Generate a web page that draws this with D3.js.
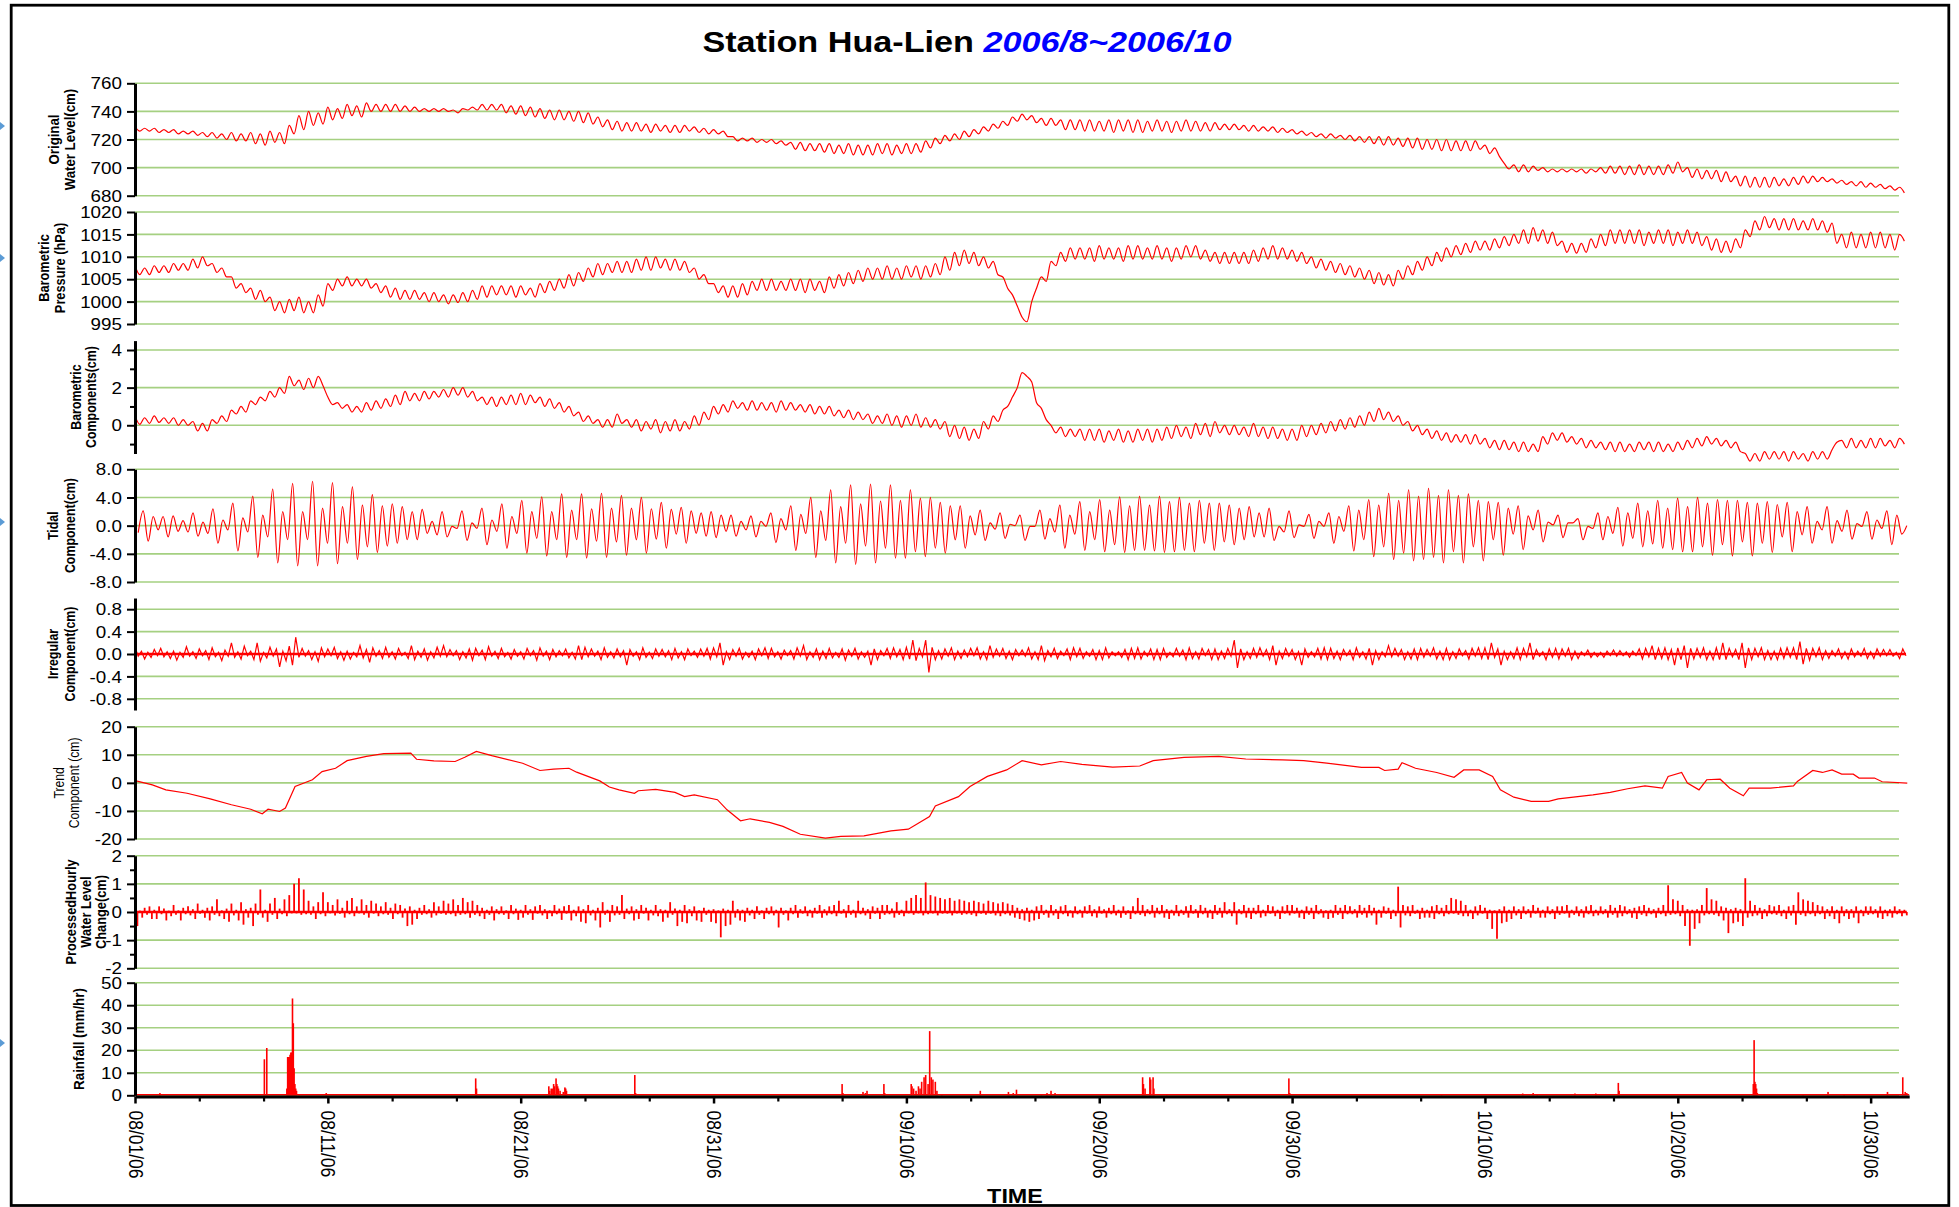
<!DOCTYPE html>
<html>
<head>
<meta charset="utf-8">
<title>Station Hua-Lien 2006/8~2006/10</title>
<script src="https://cdn.jsdelivr.net/npm/d3@7"></script>
<style>
  html, body { margin: 0; padding: 0; background: #fff; }
  svg { display: block; }
</style>
</head>
<body>
<svg id="chart" width="1959" height="1207"></svg>
<script>
// ---------------------------------------------------------------------------
// Data: hourly record of the Hua-Lien well, 2006-08-01 .. 2006-11-01 (UTC grid)
// ---------------------------------------------------------------------------
const START = Date.UTC(2006, 7, 1);
const END = Date.UTC(2006, 10, 1);
const HOUR = 3600e3;

const axisDates = ["2006-08-01", "2006-08-11", "2006-08-21", "2006-08-31", "2006-09-10",
  "2006-09-20", "2006-09-30", "2006-10-10", "2006-10-20", "2006-10-30"];
const axisDateLabels = ["08/01/06", "08/11/06", "08/21/06", "08/31/06", "09/10/06",
  "09/20/06", "09/30/06", "10/10/06", "10/20/06", "10/30/06"];

// Original water level (cm), one sample every 6 h
const waterLevelStepH = 6;
const waterLevelCm = [
729,726,728,726, 728,725,727,725, 727,724,726,724, 726,723,725,722, 725,721,724,720,
725,719,724,719, 725,717,724,716, 726,718,725,717, 730,724,737,727, 740,730,739,731,
743,734,742,735, 745,737,744,736, 746,740,745,740, 745,740,745,740, 744,740,743,740,
742,740,742,740, 742,740,741,739, 742,741,743,741, 745,741,745,741, 745,739,744,738,
744,737,743,736, 742,735,741,734, 741,734,740,733, 740,732,739,731, 736,729,734,727,
733,726,732,726, 732,726,731,725, 731,726,730,725, 730,725,730,726, 729,725,728,724,
727,724,726,722, 722,719,721,719, 721,718,720,718, 720,717,719,716, 718,713,718,712,
717,712,717,711, 717,710,716,710, 717,709,716,709, 716,709,717,710, 717,709,716,710,
717,710,717,711, 719,714,721,717, 723,719,724,720, 726,722,727,724, 729,726,731,728,
733,730,736,733, 738,734,737,732, 735,730,735,730, 734,727,734,727, 734,726,734,726,
733,726,734,725, 734,726,734,725, 734,725,733,726, 734,726,733,725, 733,726,734,726,
733,726,732,726, 732,727,731,727, 731,727,730,726, 730,726,729,726, 729,725,728,725,
727,724,726,723, 725,722,724,721, 724,721,723,720, 723,719,722,718, 722,717,722,716,
722,716,721,715, 721,714,721,713, 720,713,720,712, 720,712,719,712, 719,712,719,713,
716,710,714,708, 703,699,702,697, 702,697,701,698, 700,697,699,697, 699,697,699,697,
699,696,699,697, 700,696,701,696, 701,695,701,695, 702,695,701,695, 701,695,702,696,
704,697,700,693, 699,692,698,692, 698,690,697,690, 694,687,694,686, 693,686,693,686,
693,687,692,687, 693,688,694,689, 694,690,693,690, 692,689,691,688, 690,687,690,686,
689,686,688,685, 687,684,686,682
];

// Barometric pressure (hPa), one sample every 6 h
const pressureStepH = 6;
const pressureHpa = [
1008,1006,1007.5,1006, 1008,1006.5,1008,1006.5, 1008.5,1007,1008.5,1007, 1009.5,1007.5,1010,1008, 1008.5,1006.5,1007.5,1005.5,
1005.5,1003,1004,1002, 1003,1000.5,1002.5,1000, 1001,998,1000,997.5, 1000.5,998,1001,997.5, 1000,997.5,1001.5,999,
1004,1002.5,1005,1003.5, 1005.5,1003.5,1005,1003.5, 1005,1003,1004,1002, 1003.5,1001,1003,1000.5, 1002.5,1000.5,1002.5,1000.5,
1002,1000,1002,1000, 1001.5,999.5,1001.5,999.8, 1002,1000,1002.5,1000.5, 1003.5,1001,1003.5,1001.5, 1003.5,1001.5,1003.5,1001,
1003.5,1001.5,1003,1001, 1004,1002,1004.5,1002.5, 1005,1003,1006,1003.5, 1006.5,1004.5,1007.5,1005.5, 1008.5,1006,1008.5,1006.5,
1009,1006.5,1009,1006.5, 1009.5,1007,1010,1007, 1010,1007.5,1009.5,1007, 1009.5,1007,1009,1006.5, 1007.5,1005,1006,1004,
1004,1002,1003.5,1001, 1003.5,1001,1004,1001.5, 1004.5,1002.5,1005,1002.5, 1005,1002.5,1004.5,1002.5, 1005,1002.5,1005,1002,
1005,1002.5,1004.5,1002, 1005.5,1003,1006,1003.5, 1006.5,1004,1007,1004.5, 1007.5,1005,1007.5,1005, 1008,1005,1007.5,1005,
1008,1005.5,1008,1005, 1008,1005.5,1008.5,1006, 1010,1007,1011,1008, 1011.5,1008.5,1011,1008, 1010,1007.5,1009,1006,
1005.5,1003,1001.5,999, 996.5,995.5,1000,1003, 1005.5,1004.5,1009,1008, 1011,1009,1012,1009.5, 1012,1009.5,1012,1009,
1012.5,1009.5,1012,1009.5, 1012,1009,1012.5,1009.5, 1012.5,1009.5,1012,1009.5, 1012.5,1009.5,1012,1009, 1012,1009.5,1012.5,1010,
1012.5,1009.5,1011.5,1009, 1011,1008.5,1011,1008.5, 1011,1008.5,1011,1008.5, 1011.5,1009,1012,1009.5, 1012.5,1009.5,1012,1009.5,
1011.5,1009,1011,1008.5, 1010,1007.5,1009.5,1007, 1009,1006.5,1008.5,1006, 1008,1005.5,1007.5,1005, 1007,1004,1006.5,1003.7,
1006,1003.5,1007,1005, 1008,1006,1009,1007, 1010,1008,1011,1009, 1012,1010,1012.5,1010.5, 1013,1011,1013.5,1011.5,
1013.5,1011.5,1014,1012, 1014.5,1012.5,1015,1013, 1016,1013,1016.5,1013.5, 1016,1013,1015.5,1012.5, 1013.5,1011,1013,1010.8,
1013,1011,1014,1012, 1015,1012.5,1016,1013, 1016,1013,1016,1013, 1016,1012.5,1015.5,1013, 1016,1013,1016,1012.5,
1015.5,1013,1016,1013, 1015.5,1012.5,1014.5,1011.5, 1014,1011,1013.5,1011, 1014,1012,1016,1014.5, 1018,1016,1019,1016.5,
1018.5,1016,1018.5,1016, 1018.5,1016,1018,1016, 1018.5,1016,1018,1015.5, 1017.5,1013,1015,1012, 1015.5,1012,1015,1012,
1015.5,1012,1015.5,1012, 1015,1011.5,1015,1013.5
];

// Barometric component of the water level (cm), one sample every 6 h
const baroStepH = 6;
const baroComponentCm = [
0.5,0.05,0.4,0.1, 0.5,0.15,0.4,0.1, 0.4,0,0.3,0, 0.2,-0.3,0.1,-0.3, 0.3,0.1,0.5,0.2,
0.8,0.6,1,0.7, 1.3,1.1,1.5,1.3, 1.8,1.5,2,1.7, 2.6,2.1,2.4,1.9, 2.5,2,2.6,2.1,
1.5,1.1,1.2,0.9, 1.1,0.7,1,0.7, 1.2,0.8,1.3,0.9, 1.4,1,1.6,1.1, 1.8,1.3,1.7,1.3,
1.8,1.4,1.8,1.5, 1.9,1.5,2,1.6, 2,1.5,1.8,1.3, 1.5,1.1,1.5,1, 1.5,1.1,1.6,1.1,
1.7,1.1,1.6,1.2, 1.5,1,1.4,0.9, 1.2,0.7,1,0.5, 0.7,0.2,0.5,0.1, 0.3,-0.1,0.3,-0.1,
0.6,0.1,0.3,-0.1, 0.3,-0.3,0.2,-0.2, 0.3,-0.4,0.2,-0.3, 0.3,-0.3,0.2,-0.2, 0.5,0,0.7,0.3,
1,0.6,1.1,0.7, 1.3,0.9,1.2,0.8, 1.3,0.8,1.2,0.8, 1.2,0.7,1.3,0.8, 1.2,0.8,1.1,0.7,
1.1,0.6,1,0.6, 1,0.5,0.8,0.4, 0.8,0.3,0.7,0.3, 0.6,0.1,0.5,0.1, 0.6,0,0.5,-0.1,
0.5,0,0.6,-0.1, 0.4,-0.1,0.3,-0.2, 0.2,-0.6,0,-0.7, -0.1,-0.8,-0.2,-0.7, 0.2,-0.2,0.5,0.2,
0.8,1,1.5,2, 2.8,2.6,2.3,1.2, 0.9,0.3,0,-0.4, -0.1,-0.6,-0.2,-0.6, -0.2,-0.8,-0.2,-0.8,
-0.2,-0.9,-0.3,-0.8, -0.2,-0.9,-0.3,-0.9, -0.2,-0.8,-0.2,-0.9, -0.2,-0.8,-0.1,-0.7, 0,-0.6,-0.1,-0.7,
0.1,-0.5,0.1,-0.6, 0.2,-0.4,0,-0.5, 0,-0.5,-0.1,-0.6, 0.1,-0.6,-0.1,-0.7, -0.1,-0.7,-0.2,-0.8,
-0.2,-0.8,0,-0.6, 0,-0.5,0.1,-0.4, 0.2,-0.3,0.3,-0.2, 0.4,-0.1,0.5,0, 0.7,0.2,0.9,0.3,
0.7,0.2,0.5,0, 0.2,-0.3,0,-0.5, -0.2,-0.7,-0.3,-0.8, -0.4,-0.9,-0.5,-0.9, -0.5,-1,-0.5,-1,
-0.7,-1.2,-0.8,-1.3, -0.8,-1.3,-0.9,-1.4, -0.9,-1.4,-1,-1.4, -0.6,-1,-0.4,-0.8, -0.4,-0.9,-0.6,-1,
-0.7,-1.2,-0.8,-1.2, -0.9,-1.3,-0.9,-1.4, -0.9,-1.4,-1,-1.4, -0.9,-1.3,-0.9,-1.4, -0.9,-1.4,-1,-1.4,
-0.9,-1.3,-0.8,-1.2, -0.7,-1.1,-0.6,-1, -0.7,-1.1,-0.8,-1.2, -0.9,-1.4,-1.5,-1.9, -1.5,-1.9,-1.4,-1.8,
-1.4,-1.8,-1.4,-1.9, -1.4,-1.8,-1.5,-1.9, -1.4,-1.8,-1.4,-1.8, -1.3,-0.9,-0.8,-1.2, -0.7,-1.2,-0.8,-1.2,
-0.7,-1.2,-0.7,-1.1, -0.8,-1.2,-0.7,-1
];

// Tidal component (cm): successive highs and lows, first one 4 h after start, every 6.2 h
const tidalFirstH = 4;
const tidalStepH = 6.2;
const tidalCm = [
-1.0,2.1,-2.2,1.3,-0.6,1.3,-1.6,1.4,-0.8,0.7, -0.9,1.8,-1.5,0.5,-1.1,2.4,-2.5,0.8,-0.6,3.2,
-3.6,1.1,-0.9,4.2,-4.5,1.5,-1.6,5.2,-5.3,2.0, -2.0,6.0,-5.7,2.0,-2.0,6.3,-5.7,2.5,-2.5,6.1,
-5.4,2.7,-2.5,5.5,-4.8,2.9,-3.0,4.4,-3.8,2.8, -2.9,3.1,-2.5,2.7,-2.0,2.0,-2.0,2.3,-1.1,0.6,
-1.3,2.0,-1.6,-0.1,-0.4,2.1,-2.1,0.4,-0.4,2.5, -2.7,0.8,-0.8,3.1,-3.2,1.3,-1.1,3.6,-3.9,2.0,
-1.8,4.1,-4.3,2.0,-2.0,4.5,-4.5,2.2,-2.0,4.5, -4.6,2.4,-2.2,4.6,-4.5,2.5,-2.3,4.3,-4.2,2.5,
-2.0,4.0,-3.9,2.4,-1.9,
3.3,-3.2,2.3,-1.2,2.6,-2.5,2.1,-1.1,1.8,-1.5, 2.0,-1.7,1.5,-0.8,1.5,-1.5,0.6,-0.6,1.4,-1.6,
0.6,-0.1,1.8,-2.4,1.0,-0.6,2.8,-3.5,1.6,-1.1, 4.0,-4.5,2.1,-2.1,5.1,-5.3,2.7,-2.5,5.8,-5.5,
3.1,-2.9,5.9,-5.3,3.5,-3.2,5.8,-4.6,3.6,-4.6, 5.1,-3.7,3.9,-4.4,4.0,-3.2,3.3,-3.9,2.8,-2.0,
2.8,-3.2,1.4,-1.3,2.2,-2.1,0.4,-0.5,1.8,-1.8, 0.2,0.0,1.5,-2.1,-0.1,-0.1,2.2,-1.9,1.0,-0.9,
2.9,-3.2,1.5,-1.2,3.4,-3.5,2.0,-2.0,3.7,-3.7, 2.2,-2.7,4.1,-3.8,2.8,-3.5,4.2,-3.5,2.9,-3.6,
4.2,-3.8,3.4,-3.7,4.0,-3.5,3.2,-3.7,3.6,-2.5, 3.2,-3.5,3.2,-2.3,2.9,-2.7,2.5,-2.0,2.7,-1.6,
1.8,-1.6,2.5,-2.1,-0.1,-0.9,2.1,-1.7,0.1,-0.1, 1.6,-1.8,0.6,-0.1,1.8,-2.5,1.3,-0.8,2.8,-3.6,
2.2,-2.0,3.7,-4.4,2.9,-3.0,4.6,-4.8,3.6,-3.9, 5.1,-5.0,4.2,-4.8,5.3,-4.5,4.3,-5.3,5.1,-3.7,
4.3,-5.3,4.5,-3.0,3.6,-5.0,3.4,-2.0,3.3,-4.2, 2.5,-1.2,2.8,-3.4,1.4,-0.6,2.2,-2.3,0.5,0.1,
1.5,-1.7,0.4,0.4,1.0,-2.0,-0.1,-0.4,1.8,-2.0, 1.3,-1.1,2.6,-2.9,1.8,-1.8,3.2,-3.0,2.1,-2.6,
3.6,-3.2,2.5,-3.4,3.9,-3.7,2.7,-3.7,4.0,-3.0, 3.2,-4.2,3.7,-2.7,3.6,-4.3,3.6,-2.3,3.3,-4.3,
3.2,-2.5,3.4,-3.8,3.0,-1.6,3.3,-3.7,2.0,-1.3, 2.7,-2.5,0.6,-0.6,2.7,-2.5,0.7,-0.8,2.2,-1.9,
0.3,-0.1,2.0,-1.9,0.8,-0.4,2.1,-2.7,1.5,-1.2, 0.0
];

// Irregular component (hundredths of a cm), one sample every 4 h
const irregularStepH = 4;
const irregularHundredths = [
12,-4,5,-9,3,-6, 8,-3,10,-5,4,-8, 5,-11,3,-6,13,-4, 4,-8,9,-3,6,-10, 11,-5,3,-12,7,-4,
20,-6,4,-9,14,-3, 5,-10,20,-13,3,-7, 12,-4,9,-23,5,-12, 14,-20,30,-6,10,-4, 6,-10,4,-13,11,-5,
9,-3,12,-8,4,-11, 5,-9,3,-5,15,-7, 8,-15,11,-4,6,-8, 12,-6,4,-9,10,-3, 3,-8,15,-10,5,-6,
9,-11,4,-7,12,-4, 15,-5,8,-3,6,-10, 4,-7,9,-11,10,-3, 7,-10,13,-4,5,-8, 10,-5,3,-9,8,-4,
4,-9,10,-3,6,-11, 11,-4,5,-10,8,-5, 6,-3,9,-7,3,-9, 15,-10,12,-5,9,-4, 5,-10,11,-6,4,-7,
9,-5,6,-20,8,-4, 4,-10,11,-6,3,-8, 9,-4,8,-5,6,-10, 10,-7,4,-10,9,-3, 5,-6,9,-4,10,-9,
11,-5,20,-20,4,-10, 8,-4,10,-9,3,-6, 5,-10,9,-3,11,-8, 10,-5,4,-9,7,-3, 6,-9,11,-4,15,-10,
4,-6,9,-10,5,-8, 10,-7,3,-6,9,-11, 7,-4,10,-9,4,-6, 5,-20,9,-10,6,-3, 10,-8,11,-5,8,-10,
12,-9,25,-12,10,-5, 25,-33,12,-10,6,-9, 9,-4,11,-10,5,-8, 7,-5,10,-3,11,-9, 4,-10,15,-6,9,-4,
10,-8,5,-10,8,-3, 7,-4,11,-9,4,-10, 15,-12,6,-5,10,-8, 5,-3,9,-10,11,-5, 10,-8,4,-4,8,-10,
6,-10,11,-7,4,-3, 4,-6,8,-10,10,-8, 11,-9,5,-4,9,-10, 8,-10,10,-6,3,-5, 10,-4,7,-10,11,-8,
4,-9,10,-3,8,-10, 9,-10,5,-8,10,-4, 25,-25,9,-10,4,-8, 10,-6,11,-4,8,-10, 15,-20,5,-8,10,-4,
8,-10,4,-20,9,-6, 4,-5,10,-9,11,-10, 10,-8,5,-10,8,-3, 7,-10,11,-6,4,-9, 10,-20,6,-10,4,-5,
15,-5,10,-4,8,-10, 4,-9,9,-10,10,-6, 8,-4,11,-9,5,-10, 10,-10,4,-8,9,-3, 6,-9,10,-4,11,-8,
11,-10,20,-6,9,-20, 5,-10,4,-8,11,-10, 10,-5,20,-10,8,-4, 4,-10,9,-6,10,-9, 9,-4,10,-10,5,-8,
4,-3,7,-6,3,-5, 3,-6,5,-3,7,-4, 6,-3,4,-6,5,-3, 9,-9,10,-5,15,-10, 10,-8,11,-10,8,-20,
11,-10,15,-25,10,-9, 10,-6,11,-10,5,-10, 11,-10,20,-10,10,-5, 8,-10,20,-25,11,-10, 10,-5,11,-10,6,-10,
5,-10,10,-8,11,-6, 11,-10,22,-18,10,-11, 10,-5,11,-10,6,-8, 6,-4,9,-8,4,-9, 9,-5,5,-4,10,-8,
4,-8,9,-4,8,-3, 8,-4,3,-8,9,-3
];

// Trend component (cm) at the days (since 08/01) where its course turns
const trendDay = [0,0.9,1.6,2.7,3.9,5.0,6.0,6.6,6.9,7.5,7.8,8.3,9.2,9.7,10.4,11.0,12.0,12.9,14.3,14.6,
  15.5,16.6,17.1,17.7,18.5,20.1,21.0,21.7,22.5,22.9,24.1,24.6,25.1,25.9,26.1,27.0,28.0,28.5,29.0,30.2,
  30.7,31.4,31.9,32.9,33.6,34.5,35.8,36.6,37.8,39.2,40.1,41.2,41.5,42.7,43.3,44.2,45.2,46.0,47.0,48.0,
  49.1,50.7,52.1,52.8,54.4,56.2,57.6,59.5,60.6,61.8,63.6,64.5,64.8,65.5,65.7,66.4,67.5,68.4,68.9,69.7,
  70.4,70.8,71.5,72.4,73.3,73.8,75.6,76.5,77.4,78.3,79.2,79.5,80.2,80.5,81.1,81.5,82.2,82.7,83.4,83.7,
  84.8,86.0,86.2,87.0,87.5,88.0,88.5,89.1,89.4,90.2,90.6,91.9];
const trendCm = [0.8,-0.7,-2.5,-3.7,-5.7,-7.8,-9.4,-11.0,-9.4,-10.2,-9.0,-1.3,1.1,4.0,5.2,7.9,9.4,10.4,10.6,8.4,
  7.8,7.6,9.1,11.2,9.7,7.0,4.4,4.9,5.2,3.8,0.7,-1.5,-2.5,-3.7,-2.8,-2.3,-3.4,-4.9,-4.3,-6.0,
  -9.6,-13.5,-12.8,-14.1,-15.5,-18.3,-19.7,-19.1,-18.9,-17.1,-16.5,-12.0,-8.2,-4.9,-1.3,2.3,4.6,7.9,6.4,7.6,
  6.6,5.6,6.0,7.9,9.1,9.4,8.5,8.2,7.9,7.0,5.5,5.5,4.4,4.9,7.2,5.2,3.7,2.0,4.6,4.6,
  2.3,-2.5,-5.1,-6.6,-6.6,-5.7,-4.3,-3.4,-2.1,-1.1,-1.9,2.3,3.7,-0.1,-2.5,1.1,1.3,-1.9,-4.6,-1.9,
  -1.9,-1.1,0.5,4.4,3.7,4.6,3.1,3.1,1.7,1.7,0.4,-0.1];

// Processed hourly water level change (hundredths of a cm), one sample every 3 h
const changeStepH = 3;
const hourlyChangeHundredths = [
10,-50,5,-20,15,-10,20,-25, 8,-25,20,-8,12,-30,5,-15, 25,-10,6,-30,15,-8,20,-12, 10,-25,30,-6,8,-20,15,-30,
20,-10,45,-15,6,-25,12,-35, 30,-12,8,-30,35,-45,10,-20, 15,-50,30,-10,80,-20,8,-35, 30,-10,50,-25,12,-8,45,-15,
60,-5,100,-5,120,-10,80,-8, 40,-10,20,-25,35,-8,70,-15, 35,-5,25,-12,45,-6,15,-20, 40,-8,50,-15,20,-5,45,-10,
25,-20,40,-6,30,-15,20,-8, 35,-10,15,-25,30,-8,25,-20, 12,-50,20,-45,8,-25,15,-10, 25,-8,10,-20,35,-12,20,-6,
40,-10,30,-8,45,-15,25,-10, 50,-8,35,-20,40,-10,25,-15, 15,-25,8,-10,20,-30,10,-8, 20,-10,6,-25,25,-8,12,-28,
8,-20,25,-10,10,-28,20,-6, 25,-12,10,-25,6,-15,25,-8, 12,-28,20,-6,25,-30,8,-15, 20,-35,10,-40,25,-12,8,-30,
15,-55,35,-10,8,-35,25,-12, 20,-10,60,-25,12,-8,20,-30, 10,-25,25,-6,15,-30,8,-12, 25,-15,10,-35,8,-20,35,-10,
12,-50,8,-35,25,-40,10,-15, 20,-30,6,-35,15,-10,8,-35, 10,-40,6,-90,12,-50,8,-45, 40,-20,10,-30,8,-35,15,-12,
8,-25,20,-10,6,-25,15,-8, 20,-12,8,-55,15,-10,6,-30, 15,-8,25,-20,10,-6,20,-15, 8,-20,15,-6,25,-20,10,-12,
20,-8,25,-15,40,-6,10,-20, 25,-10,8,-20,40,-8,15,-12, 10,-25,20,-6,15,-25,25,-10, 25,-8,12,-20,35,-10,8,-15,
40,-5,50,-10,60,-5,50,-12, 105,-8,60,-5,55,-12,50,-6, 45,-6,50,-12,40,-5,45,-10, 40,-8,35,-10,40,-15,35,-6,
30,-10,40,-6,35,-12,30,-15, 35,-8,30,-12,25,-20,15,-25, 10,-30,15,-35,8,-30,20,-25, 25,-10,8,-20,25,-12,10,-25,
20,-8,25,-15,6,-20,20,-8, 8,-20,20,-6,25,-15,10,-20, 20,-6,10,-20,15,-8,25,-12, 8,-20,20,-10,6,-25,20,-8,
50,-10,25,-15,10,-8,25,-20, 15,-8,25,-20,10,-25,8,-12, 25,-15,8,-10,20,-20,25,-6, 10,-20,25,-8,15,-20,8,-25,
25,-10,15,-20,35,-8,10,-15, 35,-45,10,-8,25,-20,15,-25, 15,-8,25,-20,8,-15,25,-6, 20,-15,8,-25,20,-6,25,-12,
25,-6,15,-20,8,-25,20,-10, 15,-25,25,-8,10,-20,6,-25, 8,-20,25,-10,15,-25,25,-8, 20,-8,10,-20,25,-10,15,-20,
25,-12,15,-45,8,-20,20,-6, 15,-25,8,-15,90,-55,25,-12, 20,-15,25,-6,8,-25,15,-20, 8,-20,20,-25,25,-8,15,-15,
25,-8,50,-6,45,-10,40,-15, 25,-15,8,-25,20,-12,25,-6, 15,-25,8,-60,6,-95,10,-40, 20,-35,8,-25,20,-12,10,-25,
20,-8,10,-20,25,-6,15,-20, 8,-20,20,-8,10,-25,20,-10, 20,-6,25,-20,8,-10,20,-15, 10,-20,20,-8,25,-15,8,-12,
20,-8,10,-20,25,-10,15,-20, 25,-15,20,-8,10,-20,15,-25, 20,-10,25,-15,15,-8,10,-20, 15,-8,25,-15,95,-10,45,-8,
40,-15,25,-50,10,-120,8,-60, 10,-40,25,-12,85,-8,45,-10, 40,-15,20,-30,15,-75,10,-40, 15,-35,10,-50,120,-20,40,-15,
25,-12,15,-25,10,-15,25,-8, 20,-10,25,-15,8,-25,20,-12, 25,-45,70,-10,45,-15,40,-8, 35,-15,25,-8,20,-25,10,-15,
20,-25,8,-40,20,-15,10,-25, 10,-20,20,-40,8,-15,20,-10, 20,-8,10,-20,20,-25,8,-15, 10,-20,20,-8,10,-15,8,-12
];

// Rainfall (mm/hr) for the hours (since 08/01 00:00) that had rain
const rainHour = [31, 161,164, 189,190,191,192,193,194,195,196,197,198,199,200,201,204, 238, 424,425,
  515,516,518,520,521,522,524,525,526,527,529,533,535,536,537, 622,623, 880,881, 906,909,911, 932,933,
  966,967,969,972,975,977,979,982,984,987,989,991,993,996,998,1004, 1052, 1087,1093,1097,
  1128,1135,1140,1145, 1254,1255,1257,1263,1264,1267,1268, 1284, 1436,1437, 1626, 1727,1740,1745,
  1792,1818, 1846,1847, 2014,2015,2016,2017,2018,2019, 2076,2107,2127, 2181, 2200,2203,2205];
const rainMm = [1, 16,21, 3,17,17,17,18,19,19,43,32,12,5,3,2,0.5, 1, 7.5,3,
  4,2,3,3,5,4,7.5,5,4,3,2,1.5,3.5,3,2, 9,1, 5,1, 1.5,1,2, 5,1,
  5,4,3,2,4,3,6,8,9,5,28.5,8,7,6,2,0.5, 2, 1.5,1,2.5,
  0.5,1,2,1, 8,5,3,8,7,8,3, 0.5, 7.5,1, 0.5, 0.8,1,0.5,
  0.8,0.8, 5.5,2, 5,24.5,6,5,3,1, 0.5,1.5,0.5, 1.5, 8,1.5,1];

// Tick values of the eight value axes
const waterLevelTicks = [680, 700, 720, 740, 760];
const pressureTicks = [995, 1000, 1005, 1010, 1015, 1020];
const baroTicks = [0, 2, 4];
const baroMinorTicks = [-1, 1, 3];
const tidalTicks = [-8, -4, 0, 4, 8];
const irregularTicks = [-80, -40, 0, 40, 80];
const trendTicks = [-20, -10, 0, 10, 20];
const changeTicks = [-200, -100, 0, 100, 200];
const changeMinorTicks = [-150, -50, 50, 150];
const rainTicks = [0, 10, 20, 30, 40, 50];

// ---------------------------------------------------------------------------
// Drawing
// ---------------------------------------------------------------------------
const SX = 1.14;                       // the lettering is set slightly wide
const FONT = "Arial, 'Liberation Sans', Helvetica, sans-serif";
const RED = "#ff0000";
const GRID = "#a5d081";
const X0 = 135, X1 = 1909.2, GRID_X1 = 1899;

const svg = d3.select("#chart").attr("font-family", FONT);
const x = d3.scaleUtc().domain([new Date(START), new Date(END)]).range([X0, X1]);
const atHour = h => new Date(START + h * HOUR);
const atDay = d => new Date(START + d * 24 * HOUR);

// outer frame and the small blue markers on the left margin
svg.append("rect")
  .attr("x", 11.2).attr("y", 5.2).attr("width", 1937.6).attr("height", 1200.3)
  .attr("fill", "none").attr("stroke", "#000").attr("stroke-width", 2.8);
svg.append("g").selectAll("path").data([126, 258, 522, 1043]).join("path")
  .attr("d", d => `M0,${d - 4}L5,${d}L0,${d + 4}Z`).attr("fill", "#5b9bd5");

// title
const title = svg.append("text")
  .attr("transform", `translate(967,52.3) scale(${SX},1)`)
  .attr("text-anchor", "middle").attr("font-size", 30).attr("font-weight", "bold");
title.append("tspan").attr("fill", "#000").text("Station Hua-Lien ");
title.append("tspan").attr("fill", "#0000ff").attr("font-style", "italic").text("2006/8~2006/10");

const fmtInt = d => String(d);
const panels = [
  { top: 83.3, bottom: 195.7, domain: [680, 760], ticks: waterLevelTicks, fmt: fmtInt,
    title: ["Original", "Water Level(cm)"], titleX: [59.4, 75], bold: true, size: 13.2,
    draw: (g, y) => wave(g, y, waterLevelCm, 0, waterLevelStepH) },
  { top: 212, bottom: 324, domain: [995, 1020], ticks: pressureTicks, fmt: fmtInt,
    title: ["Barometric", "Pressure (hPa)"], titleX: [49, 64.7], bold: true, size: 12.8,
    draw: (g, y) => wave(g, y, pressureHpa, 0, pressureStepH) },
  { top: 340.6, bottom: 453.5, domain: [-1.5, 4.5], ticks: baroTicks, minor: baroMinorTicks, fmt: fmtInt,
    title: ["Barometric", "Components(cm)"], titleX: [81, 96], bold: true, size: 12.4,
    draw: (g, y) => wave(g, y, baroComponentCm, 0, baroStepH) },
  { top: 469.3, bottom: 582, domain: [-8, 8], ticks: tidalTicks, fmt: d => d.toFixed(1),
    title: ["Tidal", "Component(cm)"], titleX: [58, 75], bold: true, size: 12.4,
    draw: (g, y) => wave(g, y, tidalCm, tidalFirstH, tidalStepH) },
  { top: 598, bottom: 710, domain: [-100, 100], ticks: irregularTicks, fmt: d => (d / 100).toFixed(1),
    title: ["Irregular", "Component(cm)"], titleX: [58, 75], bold: true, size: 12.4,
    draw: (g, y) => zigzag(g, y, irregularHundredths, irregularStepH) },
  { top: 726.7, bottom: 839, domain: [-20, 20], ticks: trendTicks, fmt: fmtInt,
    title: ["Trend", "Component (cm)"], titleX: [63.5, 79], bold: false, size: 12.2,
    draw: (g, y) => trend(g, y) },
  { top: 855.7, bottom: 968.3, domain: [-200, 200], ticks: changeTicks, minor: changeMinorTicks,
    fmt: d => String(d / 100),
    title: ["ProcessedHourly", "Water Level", "Change(cm)"], titleX: [76, 91, 106], bold: true, size: 12.8,
    draw: (g, y) => needles(g, y, hourlyChangeHundredths, changeStepH) },
  { top: 982.7, bottom: 1095.3, domain: [0, 50], ticks: rainTicks, fmt: fmtInt,
    title: ["Rainfall (mm/hr)"], titleX: [84], bold: true, size: 13.4,
    draw: (g, y) => rain(g, y) }
];

function wave(g, y, values, firstH, stepH) {
  const line = d3.line()
    .x((d, i) => x(atHour(firstH + i * stepH)))
    .y(d => y(d))
    .curve(d3.curveMonotoneX);
  g.append("path").attr("d", line(values))
    .attr("fill", "none").attr("stroke", RED).attr("stroke-width", 1.2);
}

function zeroLine(g, y, lastH, width) {
  g.append("line")
    .attr("x1", x(atHour(0))).attr("x2", x(atHour(lastH)))
    .attr("y1", y(0)).attr("y2", y(0))
    .attr("stroke", RED).attr("stroke-width", width);
}

function zigzag(g, y, values, stepH) {
  zeroLine(g, y, (values.length - 1) * stepH, 2.6);
  const line = d3.line().x((d, i) => x(atHour(i * stepH))).y(d => y(d));
  g.append("path").attr("d", line(values))
    .attr("fill", "none").attr("stroke", RED).attr("stroke-width", 1.2);
}

function needles(g, y, values, stepH) {
  zeroLine(g, y, (values.length - 1) * stepH, 2.4);
  g.append("g").selectAll("line").data(values).join("line")
    .attr("x1", (d, i) => x(atHour(i * stepH))).attr("x2", (d, i) => x(atHour(i * stepH)))
    .attr("y1", y(0)).attr("y2", d => y(d))
    .attr("stroke", RED).attr("stroke-width", 1.8);
}

function trend(g, y) {
  const pts = trendDay.map((d, i) => [d, trendCm[i]]);
  const line = d3.line().x(d => x(atDay(d[0]))).y(d => y(d[1]));
  g.append("path").attr("d", line(pts))
    .attr("fill", "none").attr("stroke", RED).attr("stroke-width", 1.2);
}

function rain(g, y) {
  g.append("line")
    .attr("x1", x(atHour(0))).attr("x2", x(atHour(2208)))
    .attr("y1", y(0) - 0.6).attr("y2", y(0) - 0.6)
    .attr("stroke", RED).attr("stroke-width", 1.6);
  g.append("g").selectAll("rect").data(rainHour).join("rect")
    .attr("x", h => x(atHour(h)) - 0.8).attr("width", 1.6)
    .attr("y", (h, i) => y(rainMm[i]))
    .attr("height", (h, i) => y(0) - y(rainMm[i]))
    .attr("fill", RED);
}

panels.forEach(p => {
  const y = d3.scaleLinear().domain(p.domain).range([p.bottom, p.top]);
  const g = svg.append("g");

  // horizontal grid
  g.append("g").selectAll("line").data(p.ticks).join("line")
    .attr("x1", X0).attr("x2", GRID_X1)
    .attr("y1", d => y(d)).attr("y2", d => y(d))
    .attr("stroke", GRID).attr("stroke-width", 1.6);

  // series
  p.draw(g, y);

  // minor ticks
  if (p.minor) {
    g.append("g").attr("transform", `translate(${X0},0)`)
      .call(d3.axisLeft(y).tickValues(p.minor).tickSize(5).tickSizeOuter(0).tickFormat(""))
      .call(s => s.select(".domain").remove())
      .call(s => s.selectAll(".tick line").attr("stroke", "#000").attr("stroke-width", 2));
  }

  // value axis
  g.append("g").attr("transform", `translate(${X0},0)`)
    .call(d3.axisLeft(y).tickValues(p.ticks).tickSize(8).tickSizeOuter(0).tickFormat(p.fmt))
    .attr("font-size", 16.5).attr("font-family", FONT)
    .call(s => s.select(".domain").attr("stroke", "#000").attr("stroke-width", 3))
    .call(s => s.selectAll(".tick line").attr("stroke", "#000").attr("stroke-width", 2))
    .call(s => s.selectAll(".tick text")
      .attr("x", 0).attr("dy", "0.34em").attr("fill", "#000")
      .attr("transform", `translate(-13,0) scale(${SX},1)`));

  // axis title
  const t = g.append("text")
    .attr("transform", `translate(${p.titleX[0]},${(p.top + p.bottom) / 2}) scale(${SX},1) rotate(-90)`)
    .attr("text-anchor", "middle").attr("font-size", p.size)
    .attr("font-weight", p.bold ? "bold" : "normal").attr("fill", "#000");
  p.title.forEach((line, i) => {
    t.append("tspan").attr("x", 0)
      .attr("dy", i === 0 ? 0 : (p.titleX[i] - p.titleX[i - 1]) / SX)
      .text(line);
  });
});

// time axis
const parseDay = d3.utcParse("%Y-%m-%d");
const majorDates = axisDates.map(parseDay);
const minorDates = d3.range(80, 2208, 80).filter(h => h % 240 !== 0).map(atHour);
const axisY = 1096.5;

svg.append("g").attr("transform", `translate(0,${axisY})`)
  .call(d3.axisBottom(x).tickValues(minorDates).tickSize(5).tickSizeOuter(0).tickFormat(""))
  .call(s => s.select(".domain").remove())
  .call(s => s.selectAll(".tick line").attr("stroke", "#000").attr("stroke-width", 2.2));

svg.append("g").attr("transform", `translate(0,${axisY})`)
  .call(d3.axisBottom(x).tickValues(majorDates).tickSize(7).tickSizeOuter(0)
    .tickFormat((d, i) => axisDateLabels[i]))
  .attr("font-size", 17.5).attr("font-family", FONT)
  .call(s => s.select(".domain").attr("stroke", "#000").attr("stroke-width", 3))
  .call(s => s.selectAll(".tick line").attr("stroke", "#000").attr("stroke-width", 2.5))
  .call(s => s.selectAll(".tick text")
    .attr("x", 0).attr("y", 0).attr("dy", "0.35em").attr("fill", "#000")
    .attr("text-anchor", "start")
    .attr("transform", `translate(0,14) scale(${SX},1) rotate(90)`));

svg.append("text")
  .attr("transform", `translate(1015,1203) scale(${SX},1)`)
  .attr("text-anchor", "middle").attr("font-size", 20.5).attr("font-weight", "bold")
  .attr("fill", "#000").text("TIME");
</script>
</body>
</html>
